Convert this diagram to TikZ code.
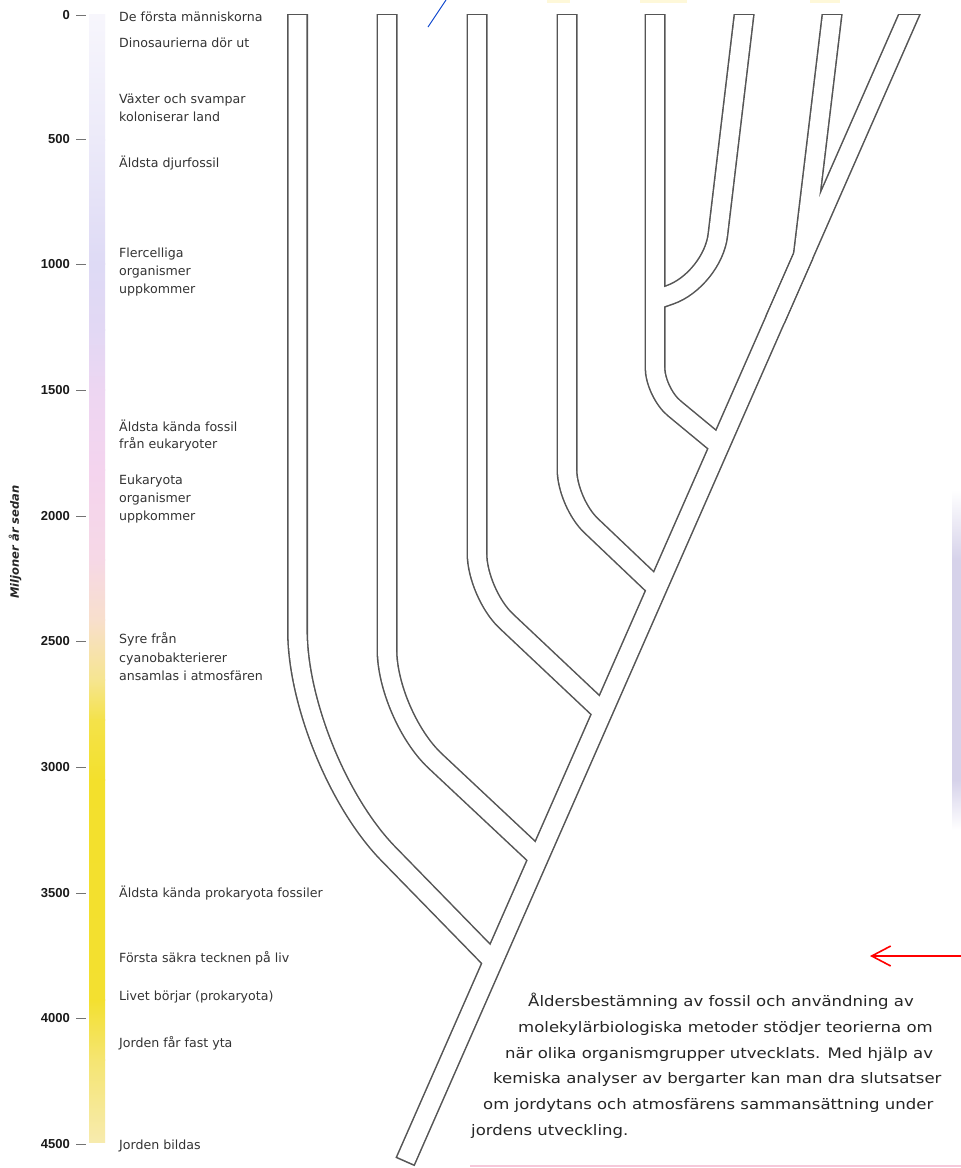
\documentclass[tikz,border=0pt]{standalone}
\usepackage{fontspec}
\setmainfont{DejaVu Sans}
\newfontfamily\numfont{Liberation Sans}
\newfontfamily\parafont[FakeStretch=1.14]{DejaVu Sans}
\usetikzlibrary{arrows.meta}

\definecolor{edge}{HTML}{555555}
\definecolor{labelgray}{HTML}{333333}
\definecolor{paragray}{HTML}{262626}
\definecolor{gA}{HTML}{F7F6FC}
\definecolor{gB}{HTML}{ECEAF9}
\definecolor{gC}{HTML}{DEDAF5}
\definecolor{gD}{HTML}{E2D8F4}
\definecolor{gE}{HTML}{EDD6F2}
\definecolor{gF}{HTML}{F4D4EE}
\definecolor{gG}{HTML}{F6D8E6}
\definecolor{gH}{HTML}{F8DFCC}
\definecolor{gI}{HTML}{F6E590}
\definecolor{gJ}{HTML}{F4E24A}
\definecolor{gK}{HTML}{F3E02C}
\definecolor{gL}{HTML}{F3E030}
\definecolor{gM}{HTML}{F5E572}
\definecolor{gN}{HTML}{F7EBAE}
\definecolor{stripcol}{HTML}{D6D2EA}
\definecolor{pinkline}{HTML}{F6C8DA}

\tikzset{
  tubeouter/.style={draw=edge, line width=21pt},
  tubeinner/.style={draw=white, line width=17.9pt},
  evtext/.style={anchor=base west, inner sep=0pt, text=labelgray,
                 font=\fontsize{12.6}{15}\selectfont},
  ticklabel/.style={anchor=base east, inner sep=0pt, text=black!90,
                    font=\numfont\bfseries\fontsize{13}{15}\selectfont},
  tickmark/.style={draw=black!55, line width=1pt},
  paraline/.style={anchor=base west, inner sep=0pt, text=paragray,
                   font=\parafont\fontsize{14.5}{18}\selectfont},
}

% side branches of the tree (all drawn twice: dark outline, then white core)
\newcommand\branchpaths[1]{%
  \draw[#1,rounded corners=130pt] (297.5,-10) -- (297.5,760.6) -- (493.1,961.2);
  \draw[#1,rounded corners=66pt]  (387,-10)   -- (387,715.8)   -- (538.6,857.9);
  \draw[#1,rounded corners=40pt]  (477,-10)   -- (477,593.5)   -- (602.7,712);
  \draw[#1,rounded corners=33pt]  (567,-10)   -- (567,502.7)   -- (657.1,588.4);
  \draw[#1,rounded corners=25pt]  (655,-10)   -- (655,392.4)   -- (719.7,445.9);
  \draw[#1,rounded corners=45pt]  (747,-10)   -- (712.5,279.9) -- (655,300);
  \draw[#1] (835,-10) -- (803.1,256.1) -- (775,320);
}

\begin{document}
\begin{tikzpicture}[x=1pt,y=-1pt]
\path[use as bounding box] (0,0) rectangle (961,1168);
\fill[white] (0,0) rectangle (961,1168);

% ---------- colour bar of the time scale ----------
\foreach \ya/\yb/\ca/\cb in {15/140/gA/gB, 140/264/gB/gC, 264/330/gC/gD, 330/390/gD/gE,
    390/470/gE/gF, 470/560/gF/gG, 560/620/gG/gH, 620/680/gH/gI, 680/720/gI/gJ,
    720/780/gJ/gK, 780/1000/gK/gL, 1000/1060/gL/gM, 1060/1142/gM/gN}{
  \shade[top color=\ca, bottom color=\cb] (89,\ya-0.3) rectangle (105,\yb+0.3);
}

% ---------- ticks and numbers ----------
\foreach \v/\yy in {0/15,500/139,1000/264,1500/390,2000/516,2500/641,3000/767,3500/893,4000/1018,4500/1144}{
  \draw[tickmark] (76,\yy) -- (86,\yy);
  \node[ticklabel] (tick\v) at (70,\yy+4.7) {\v};
}

\node[rotate=90, inner sep=0pt, text=black!85,
      font=\bfseries\itshape\fontsize{11.5}{13}\selectfont] (axistitle) at (15,542) {Miljoner år sedan};

% ---------- events ----------
\node[evtext] (ev1)  at (119,21.5)  {De första människorna};
\node[evtext] (ev2)  at (119,47)    {Dinosaurierna dör ut};
\node[evtext] (ev3a) at (119,103.5) {Växter och svampar};
\node[evtext] (ev3b) at (119,121)   {koloniserar land};
\node[evtext] (ev4)  at (119,167.5) {Äldsta djurfossil};
\node[evtext] (ev5a) at (119,257.5) {Flercelliga};
\node[evtext] (ev5b) at (119,275.5) {organismer};
\node[evtext] (ev5c) at (119,293.5) {uppkommer};
\node[evtext] (ev6a) at (119,431)   {Äldsta kända fossil};
\node[evtext] (ev6b) at (119,448.5) {från eukaryoter};
\node[evtext] (ev7a) at (119,484.5) {Eukaryota};
\node[evtext] (ev7b) at (119,502.5) {organismer};
\node[evtext] (ev7c) at (119,520.5) {uppkommer};
\node[evtext] (ev8a) at (119,643)   {Syre från};
\node[evtext] (ev8b) at (119,662)   {cyanobakterierer};
\node[evtext] (ev8c) at (119,680.5) {ansamlas i atmosfären};
\node[evtext] (ev9)  at (119,897.5) {Äldsta kända prokaryota fossiler};
\node[evtext] (ev10) at (119,962.5) {Första säkra tecknen på liv};
\node[evtext] (ev11) at (119,1000.5){Livet börjar (prokaryota)};
\node[evtext] (ev12) at (119,1047.5){Jorden får fast yta};
\node[evtext] (ev13) at (119,1149.5){Jorden bildas};

% ---------- tree: dark outline pass ----------
\begin{scope}
  \clip (0,14.2) rectangle (961,1168);
  \branchpaths{tubeouter}
  \draw[tubeouter] (920,-10) -- (405,1162);
\end{scope}
% ---------- tree: white core pass ----------
\begin{scope}
  \clip (0,15.8) rectangle (961,1168);
  \branchpaths{tubeinner}
  \draw[tubeinner, shorten >=1.6pt] (920,-10) -- (405,1162);
\end{scope}

% ---------- remains of the heading at the top edge ----------
\draw[blue!70!cyan!80!black, line width=0.9pt] (428,27) -- (446,0);
\fill[yellow!70!orange, opacity=0.15] (547,0) rectangle (570,3);
\fill[yellow!70!orange, opacity=0.15] (640,0) rectangle (687,2.5);
\fill[yellow!70!orange, opacity=0.15] (810,0) rectangle (840,2.5);

% ---------- caption ----------
\node[paraline] (p1) at (528,1006) {Åldersbestämning av fossil och användning av};
\node[paraline] (p2) at (518,1032) {molekylärbiologiska metoder stödjer teorierna om};
\node[paraline] (p3) at (505,1058) {när olika organismgrupper utvecklats. Med hjälp av};
\node[paraline] (p4) at (493,1083) {kemiska analyser av bergarter kan man dra slutsatser};
\node[paraline] (p5) at (483,1109) {om jordytans och atmosfärens sammansättning under};
\node[paraline] (p6) at (471,1135) {jordens utveckling.};

% ---------- pointer arrow and page edge marks ----------
\coordinate (arrowstart) at (961,956);
\coordinate (arrowtip) at (870,956);
\draw[red, line width=1.6pt, -{Straight Barb[length=19pt,width=20pt]}] (arrowstart) -- (arrowtip);

\shade[top color=white, bottom color=stripcol] (952,490) rectangle (961,560);
\fill[stripcol] (952,560) rectangle (961,780);
\shade[top color=stripcol, bottom color=white] (952,780) rectangle (961,830);
\draw[pinkline, line width=2.5pt] (470,1166) -- (961,1166);
\end{tikzpicture}
\end{document}
